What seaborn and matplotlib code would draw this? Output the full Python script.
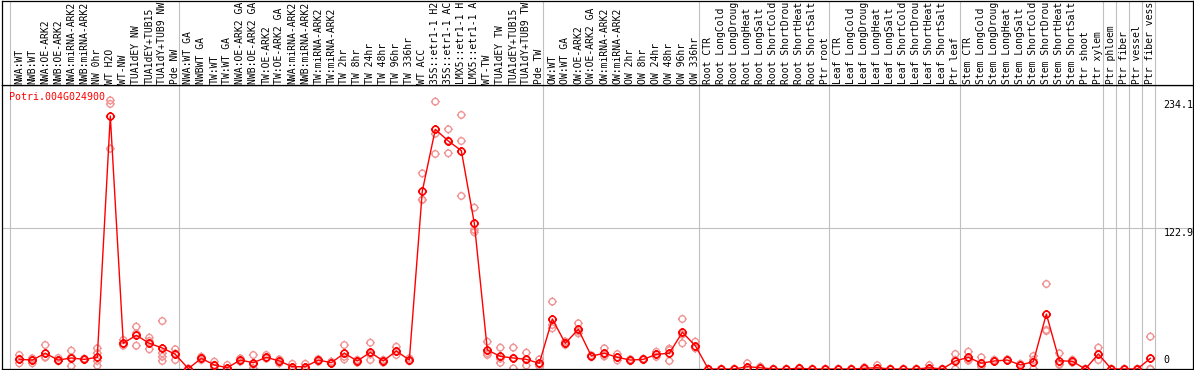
import numpy as np
import pandas as pd
import seaborn as sns
import matplotlib.pyplot as plt
from matplotlib.path import Path
from matplotlib.transforms import ScaledTranslation

gene = "Potri.004G024900"

# sample names as they appear (cut to 14 characters in the original header)
samples = [
    "NWA:WT", "NWB:WT", "NWA:OE-ARK2", "NWB:OE-ARK2", "NWA:miRNA-ARK2", "NWB:miRNA-ARK2",
    "NW 0hr", "WT H2O", "WT-NW", "TUA1dEY NW", "TUA1dEY+TUB15", "TUA1dY+TUB9 NW", "Pde NW",
    "NWA:WT GA", "NWBWT GA", "TW:WT", "TW:WT GA", "NWA:OE-ARK2 GA", "NWB:OE-ARK2 GA",
    "TW:OE-ARK2", "TW:OE-ARK2 GA", "NWA:miRNA-ARK2", "NWB:miRNA-ARK2", "TW:miRNA-ARK2",
    "TW:miRNA-ARK2", "TW 2hr", "TW 8hr", "TW 24hr", "TW 48hr", "TW 96hr", "TW 336hr",
    "WT ACC", "35S::etr1-1 H2", "35S::etr1-1 AC", "LMX5::etr1-1 H", "LMX5::etr1-1 A",
    "WT-TW", "TUA1dEY TW", "TUA1dEY+TUB15", "TUA1dY+TUB9 TW", "Pde TW",
    "OW:WT", "OW:WT GA", "OW:OE-ARK2", "OW:OE-ARK2 GA", "OW:miRNA-ARK2", "OW:miRNA-ARK2",
    "OW 2hr", "OW 8hr", "OW 24hr", "OW 48hr", "OW 96hr", "OW 336hr",
    "Root CTR", "Root LongCold", "Root LongDroug", "Root LongHeat", "Root LongSalt",
    "Root ShortCold", "Root ShortDrou", "Root ShortHeat", "Root ShortSalt", "Ptr root",
    "Leaf CTR", "Leaf LongCold", "Leaf LongDroug", "Leaf LongHeat", "Leaf LongSalt",
    "Leaf ShortCold", "Leaf ShortDrou", "Leaf ShortHeat", "Leaf ShortSalt", "Ptr leaf",
    "Stem CTR", "Stem LongCold", "Stem LongDroug", "Stem LongHeat", "Stem LongSalt",
    "Stem ShortCold", "Stem ShortDrou", "Stem ShortHeat", "Stem ShortSalt", "Ptr shoot",
    "Ptr xylem", "Ptr phloem", "Ptr fiber", "Ptr vessel", "Ptr fiber vess",
]

means = [
    8.4, 7.8, 13.7, 7.8, 9.6, 8.4, 10.2, 220.5, 22.4, 29.4, 22.4, 18.3, 12.8,
    0.3, 9.3, 3.5, 1.1, 7.8, 5.5, 10.2, 7.0, 2.0, 2.0, 7.8, 5.5, 13.7, 7.0, 14.5,
    7.0, 15.7, 7.8, 155.1, 208.9, 198.7, 190.3, 127.0, 16.6, 11.0, 9.6, 8.4, 5.0,
    43.6, 22.4, 34.6, 11.3, 13.7, 10.2, 7.8, 8.4, 12.8, 13.7, 32.0, 20.3,
    0, 0, 0, 2.0, 1.1, 0, 0, 0.6, 0, 0,
    0, 0, 0.6, 1.1, 0, 0, 0, 1.1, 0, 7.0,
    10.2, 5.0, 7.0, 7.8, 3.5, 6.4, 47.9, 7.2, 6.7, 0, 13.1,
    0, 0, 0, 9.3,
]

reps = [
    [12.2, 8.7, 5.0], [9.3, 5.0, 8.5], [20.9, 9.9, 10.5], [9.6, 7.0, 7.0],
    [16.0, 2.6, 10.2], [9.0, 8.0, 8.2], [18.0, 13.7, 7.0, 2.9], [234.1, 231.0, 192.0],
    [25.3, 20.3, 21.6], [36.9, 20.3, 31.0], [27.3, 17.2, 24.4], [41.8, 13.7, 10.7, 7.0],
    [17.2, 7.8, 13.4],
    [0.5, 0, 0.3], [10.7, 7.8, 9.4], [6.4, 3.5, 0.8], [3.5, 0, 0], [9.3, 6.4, 7.8],
    [12.2, 3.7, 0.6], [12.2, 9.3, 9.1], [8.4, 5.0, 7.6], [4.5, 1.0, 0.5], [4.5, 1.0, 0.5],
    [8.4, 6.4, 8.6], [6.4, 5.0, 5.1], [20.9, 10.7, 8.4], [7.8, 5.5, 7.7], [22.9, 7.8, 12.8],
    [7.8, 5.5, 7.7], [19.4, 12.2, 15.5], [9.3, 7.0, 7.1],
    [170.5, 147.3, 147.6], [233.0, 205.0, 187.4], [208.9, 188.0, 199.0],
    [221.4, 198.7, 150.8], [140.6, 121.2, 119.2],
    [23.8, 12.2, 13.8], [18.6, 9.0, 5.4], [18.6, 0.6, 9.6], [14.2, 8.0, 3.0], [8.4, 4.1, 2.5],
    [58.7, 38.4, 35.5], [24.0, 21.0, 22.2], [39.8, 31.1, 32.9], [12.0, 10.5, 11.4],
    [18.0, 11.0, 12.1], [13.0, 7.5, 10.1], [8.5, 7.0, 7.9], [9.0, 8.0, 8.2],
    [15.0, 12.8, 10.6], [17.7, 7.0, 16.4], [43.6, 22.4, 30.0], [23.8, 18.0, 19.1],
    [0, 0, 0], [0, 0, 0], [0, 0, 0], [5.0, 1.0, 0], [2.0, 1.0, 0.3], [0, 0, 0], [0, 0, 0],
    [1.0, 0.5, 0.3], [0, 0, 0], [0, 0, 0],
    [0, 0, 0], [0, 0, 0], [1.5, 0.3, 0], [3.3, 0, 0], [0, 0, 0], [0, 0, 0], [0, 0, 0],
    [3.3, 0, 0], [0, 0, 0], [13.1, 0, 7.9],
    [15.1, 7.2, 8.3], [10.2, 2.6, 2.2], [8.0, 6.5, 6.5], [8.5, 7.5, 7.4], [4.5, 3.0, 3.0],
    [11.3, 0, 7.9], [74.1, 34.0, 33.1], [13.7, 3.5, 4.4], [8.0, 5.5, 6.6], [0, 0, 0],
    [18.6, 7.8, 12.9],
    [0, 0, 0], [0, 0, 0], [0, 0, 0], [28.2, 0, 0],
]

group_starts = [0, 13, 41, 53, 63, 73, 84, 85, 86, 87, 88]
y_ticks = [234.1, 122.9, 0]
y_tick_labels = ["234.1", "122.9", "0"]

mean_df = pd.DataFrame({"pos": np.arange(len(means)), "value": means})
rep_df = pd.DataFrame([(i, v) for i, r in enumerate(reps) for v in r], columns=["pos", "value"])

plt.rcParams["font.family"] = ["DejaVu Sans Mono"]

# circle with small ticks, like the original marker
ticks = Path([[0, 1], [0, 1.35], [0, -1], [0, -1.35], [1, 0], [1.35, 0], [-1, 0], [-1.35, 0]],
             [Path.MOVETO, Path.LINETO] * 4)
ring = Path.make_compound_path(Path.unit_circle(), ticks)

fig = plt.figure(figsize=(11.94, 3.70), dpi=100)
W, H = 1194, 370
ax = fig.add_axes([2 / W, 1 / H, 1191 / W, 284 / H])
hdr = fig.add_axes([2 / W, 285 / H, 1191 / W, 84 / H])

grid_c = "#c0c0c0"
for a in (ax, hdr):
    for k in group_starts:
        a.axvline(k - 0.68, color=grid_c, lw=0.8, zorder=0)
    a.set_xlim(-1.33, 90.28)
    a.set_xticks([])
    a.set_yticks([])
    for s in a.spines.values():
        s.set_color("black")
        s.set_linewidth(0.9)

ax.axhline(122.9, color=grid_c, lw=0.8, zorder=0)
ax.set_ylim(0, 247.5)

sns.scatterplot(data=rep_df, x="pos", y="value", ax=ax, marker=ring, s=40,
                color="#f09494", facecolors="none", edgecolor="#f09494", linewidth=1.0, zorder=2)
sns.lineplot(data=mean_df, x="pos", y="value", ax=ax, color="red", lw=1.0,
             marker=ring, markersize=6.5, markerfacecolor="none", markeredgecolor="red",
             markeredgewidth=1.2, zorder=3)
ax.set_xlabel("")
ax.set_ylabel("")

ax.text(-0.77, 237.3, gene, color="red", fontsize=7.2, ha="left", va="center")
for v, lab in zip(y_ticks, y_tick_labels):
    if v == 0:
        ax.text(88.0, v, lab, fontsize=7.2, ha="left", va="bottom",
                transform=ax.transData + ScaledTranslation(0, 3 / 72, fig.dpi_scale_trans))
    else:
        ax.text(88.0, v, lab, fontsize=7.2, ha="left", va="top")

hdr.set_ylim(0, 84)
for i, lab in enumerate(samples):
    hdr.text(i, 1.5, lab, rotation=90, fontsize=7.0, ha="center", va="bottom")

fig.savefig("out.png", dpi=100)
